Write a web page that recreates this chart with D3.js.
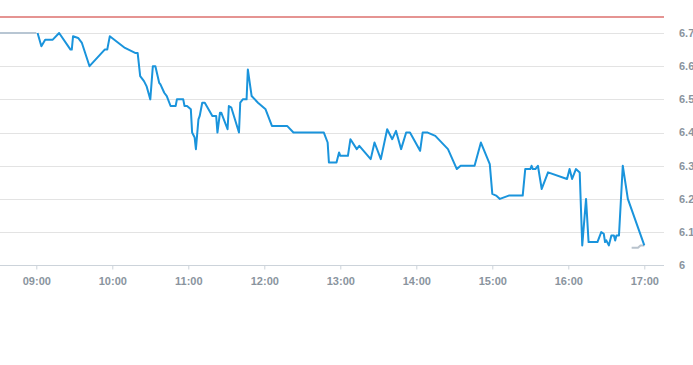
<!DOCTYPE html>
<html>
<head>
<meta charset="utf-8">
<script src="https://cdn.jsdelivr.net/npm/d3@7"></script>
<style>
  html, body { margin: 0; padding: 0; background: #fff; }
  svg { display: block; }
  text { font-family: "Liberation Sans", Arial, sans-serif; }
</style>
</head>
<body>
<svg id="chart" width="693" height="365"></svg>
<script>
// ---- data ----
const times = ["09:01","09:04","09:07","09:13","09:18","09:27","09:28","09:29","09:33","09:36","09:42","09:54","09:56","09:58",
  "10:10","10:18","10:20","10:22","10:25","10:27","10:30","10:32","10:34","10:37","10:38","10:41","10:43","10:46","10:50","10:51","10:56","10:57","10:59",
  "11:02","11:03","11:05","11:06","11:08","11:09","11:11","11:13","11:19","11:22","11:23","11:25","11:26","11:31","11:32","11:34","11:40","11:41","11:43","11:46","11:47","11:50","11:55",
  "12:01","12:06","12:18","12:23","12:47","12:50","12:51","12:57","12:59",
  "13:00","13:06","13:08","13:13","13:15","13:24","13:27","13:32","13:37","13:41","13:44","13:48","13:52","13:55",
  "14:03","14:05","14:09","14:15","14:25","14:32","14:35","14:46","14:51","14:58",
  "15:00","15:03","15:06","15:13","15:24","15:26","15:30","15:31","15:32","15:34","15:36","15:39","15:44","15:59",
  "16:01","16:03","16:06","16:09","16:11","16:14","16:16","16:23","16:26","16:28","16:29","16:30","16:32","16:34","16:36","16:37","16:38","16:40","16:43","16:47",
  "17:00"];
const prices = [6.70,6.66,6.68,6.68,6.70,6.65,6.65,6.69,6.685,6.67,6.60,6.65,6.65,6.69,
  6.655,6.64,6.64,6.57,6.555,6.54,6.50,6.60,6.60,6.55,6.545,6.52,6.51,6.48,6.48,6.50,6.50,6.48,6.48,
  6.47,6.40,6.385,6.35,6.44,6.45,6.49,6.49,6.45,6.45,6.40,6.46,6.46,6.41,6.48,6.475,6.40,6.49,6.50,6.50,6.59,6.51,6.49,
  6.47,6.42,6.42,6.40,6.40,6.37,6.31,6.31,6.34,
  6.33,6.33,6.38,6.35,6.36,6.32,6.37,6.32,6.41,6.38,6.405,6.35,6.40,6.40,
  6.345,6.40,6.40,6.39,6.35,6.29,6.30,6.30,6.37,6.305,
  6.215,6.21,6.20,6.21,6.21,6.29,6.29,6.30,6.29,6.29,6.30,6.23,6.28,6.26,
  6.29,6.26,6.29,6.28,6.06,6.20,6.07,6.07,6.10,6.095,6.07,6.075,6.06,6.09,6.09,6.075,6.09,6.09,6.30,6.20,
  6.06];
const preTimes = ["08:31","09:00"];
const prePrices = [6.70, 6.70];
const postTimes = ["16:50","16:55","16:57","17:00"];
const postPrices = [6.053, 6.053, 6.06, 6.06];
const prevClose = 6.748;
const yTicks = [6.0, 6.1, 6.2, 6.3, 6.4, 6.5, 6.6, 6.7];
const xTickLabels = ["09:00","10:00","11:00","12:00","13:00","14:00","15:00","16:00","17:00"];

// ---- helpers ----
const parse = s => { const [h, m] = s.split(":").map(Number); return new Date(2024, 0, 2, h, m, 0); };
const toPts = (ts, vs) => ts.map((t, i) => ({ t: parse(t), v: vs[i] }));

const svg = d3.select("#chart");
const plotL = 0, plotR = 664, plotT = 33, plotB = 265.3;

const x = d3.scaleTime()
  .domain([new Date(2024, 0, 2, 8, 31, 20), new Date(2024, 0, 2, 17, 15, 33)])
  .range([plotL, plotR]);
const y = d3.scaleLinear().domain([6.0, 6.7]).range([plotB, plotT]);

// gridlines
svg.append("g").selectAll("line").data(yTicks.filter(d => d > 6.0)).join("line")
  .attr("x1", plotL).attr("x2", plotR)
  .attr("y1", d => Math.round(y(d)) + 0.5).attr("y2", d => Math.round(y(d)) + 0.5)
  .attr("stroke", "#e3e3e3").attr("stroke-width", 1);

// y labels (right)
svg.append("g").selectAll("text").data(yTicks).join("text")
  .attr("x", 679).attr("y", d => y(d))
  .attr("dy", "0.35em")
  .attr("fill", "#8a949e").attr("font-size", 11).attr("font-weight", "bold")
  .text(d => d === 6 ? "6" : d3.format(".1f")(d));

// x axis
const xAxis = d3.axisBottom(x)
  .tickValues(xTickLabels.map(parse))
  .tickFormat(d3.timeFormat("%H:%M"))
  .tickSize(4).tickSizeOuter(0);
const gx = svg.append("g").attr("transform", `translate(0,${Math.round(plotB) + 0.5})`).call(xAxis);
gx.select(".domain").attr("stroke", "#ccd3da").attr("d", `M${plotL},0H${plotR}`);
gx.selectAll(".tick line").attr("stroke", "#ccd3da");
gx.selectAll(".tick text").attr("fill", "#8a949e").attr("font-size", 11).attr("font-weight", "bold")
  .attr("font-family", "'Liberation Sans', Arial, sans-serif").attr("dy", "1.1em");

// previous close line
svg.append("line")
  .attr("x1", plotL).attr("x2", plotR)
  .attr("y1", Math.round(y(prevClose))).attr("y2", Math.round(y(prevClose)))
  .attr("stroke", "#cc2a26").attr("stroke-width", 1.1);

const line = d3.line().x(d => x(d.t)).y(d => y(d.v));

// grey pre/post lines
svg.append("path").datum(toPts(preTimes, prePrices)).attr("d", line)
  .attr("fill", "none").attr("stroke", "#b8c6d3").attr("stroke-width", 2);
svg.append("path").datum(toPts(postTimes, postPrices)).attr("d", line)
  .attr("fill", "none").attr("stroke", "#b9c3cd").attr("stroke-width", 2);

// main line
svg.append("path").datum(toPts(times, prices)).attr("d", line)
  .attr("fill", "none").attr("stroke", "#1a94dc").attr("stroke-width", 2)
  .attr("stroke-linejoin", "round");
</script>
</body>
</html>
